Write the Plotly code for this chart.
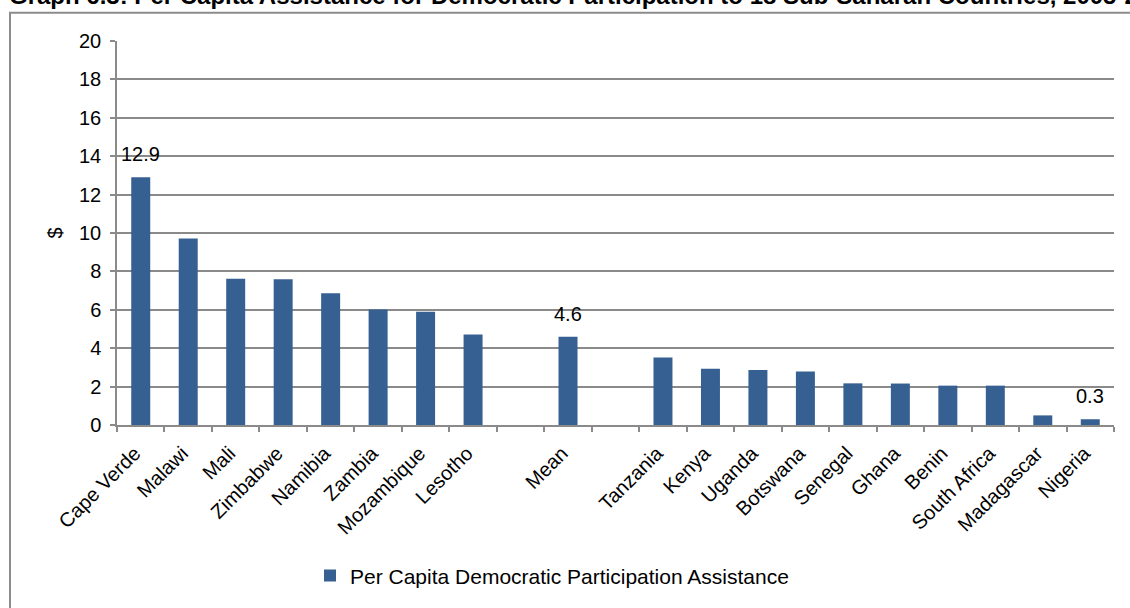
import plotly.graph_objects as go

# Per capita assistance (US$) by country, with the mean set apart by empty slots
countries = ["Cape Verde", "Malawi", "Mali", "Zimbabwe", "Namibia", "Zambia",
             "Mozambique", "Lesotho", " ", "Mean", "  ", "Tanzania", "Kenya",
             "Uganda", "Botswana", "Senegal", "Ghana", "Benin", "South Africa",
             "Madagascar", "Nigeria"]
values = [12.9, 9.71, 7.62, 7.59, 6.86, 6.02, 5.9, 4.71, None, 4.6, None,
          3.52, 2.93, 2.87, 2.78, 2.17, 2.16, 2.05, 2.05, 0.5, 0.3]
labelled = ["Cape Verde", "Mean", "Nigeria"]
y_ticks = list(range(0, 21, 2))

series_name = "Per Capita Democratic Participation Assistance"
title_text = ("Graph 6.3: Per Capita Assistance for Democratic Participation "
              "to 18 Sub-Saharan Countries, 2005-2010")

FONT = "Liberation Sans, Arial, sans-serif"
BAR = "#376092"
GRID = "#8a8a8a"

fig = go.Figure()
fig.add_trace(go.Bar(
    x=countries, y=values, name=series_name,
    marker=dict(color=BAR, line=dict(width=0)),
    showlegend=True,
))

annotations = []
for c in labelled:
    v = values[countries.index(c)]
    annotations.append(dict(
        x=c, y=v, xref="x", yref="y", text=f"{v:g}", showarrow=False,
        yanchor="middle", yshift=23, font=dict(size=20, color="black", family=FONT),
    ))

# title line running off the top edge of the page
annotations.append(dict(
    x=(7 - 117) / 997, y=(428 + 5) / 387, xref="paper", yref="paper",
    xanchor="left", yanchor="middle", text=f"<b>{title_text}</b>",
    showarrow=False, font=dict(size=24, color="black", family=FONT),
))

fig.update_layout(
    width=1130, height=608,
    margin=dict(l=117, r=16, t=41, b=180),
    paper_bgcolor="white", plot_bgcolor="white",
    font=dict(family=FONT, size=20, color="black"),
    bargap=0.6,
    showlegend=True,
    legend=dict(orientation="h", x=(310 - 117) / 997, xanchor="left", y=-0.393,
                yanchor="middle", font=dict(size=21, color="black"),
                itemwidth=30),
    annotations=annotations,
    shapes=[dict(type="rect", xref="paper", yref="paper",
                 x0=(10 - 117) / 997, x1=1.03, y0=-0.5, y1=(428 - 12.5) / 387,
                 line=dict(color="#8c8c8c", width=2), fillcolor="rgba(0,0,0,0)",
                 layer="below")],
)

fig.update_xaxes(
    type="category", tickangle=-45, tickson="boundaries",
    ticks="outside", ticklen=5, tickcolor=GRID, tickwidth=1.5,
    showline=True, linecolor=GRID, linewidth=1.5,
    showgrid=False, tickfont=dict(size=20, color="black"),
    ticklabelstandoff=7, ticklabelshift=-6,
)
fig.update_yaxes(
    range=[0, 20], tickvals=y_ticks, ticks="outside", ticklen=5,
    tickcolor=GRID, tickwidth=1.5,
    showline=True, linecolor=GRID, linewidth=1.5,
    showgrid=True, gridcolor=GRID, gridwidth=1.5, zeroline=False,
    tickfont=dict(size=20, color="black"),
    ticklabelstandoff=5,
    title=dict(text="$", font=dict(size=20, color="black"), standoff=11),
)

fig.write_html("out.html")
